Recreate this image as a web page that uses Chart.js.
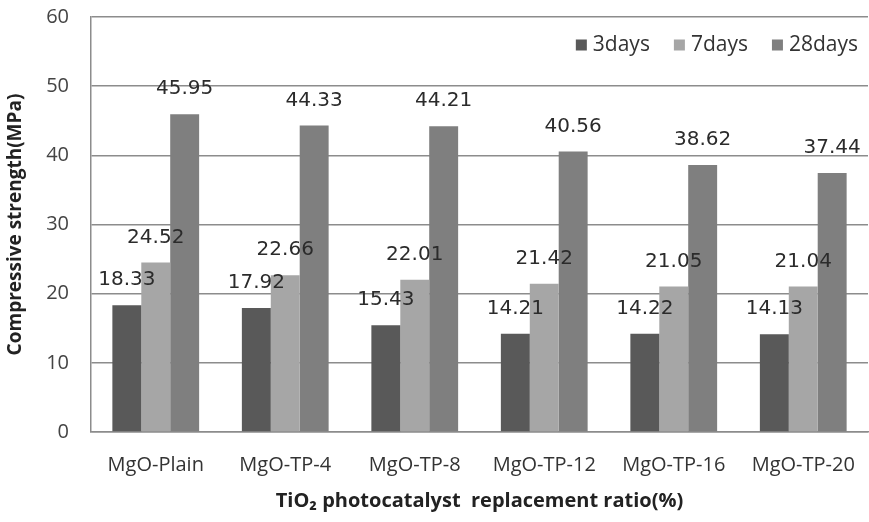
<!DOCTYPE html>
<html>
<head>
<meta charset="utf-8">
<script src="https://cdn.jsdelivr.net/npm/chart.js@4.4.1/dist/chart.umd.min.js"></script>
<style>
  html, body { margin: 0; padding: 0; background: #fff; }
  #wrap { width: 869px; height: 522px; position: relative; }
</style>
</head>
<body>
<div id="wrap"><canvas id="strengthChart"></canvas></div>
<script>
const categories = ["MgO-Plain", "MgO-TP-4", "MgO-TP-8", "MgO-TP-12", "MgO-TP-16", "MgO-TP-20"];
const seriesNames = ["3days", "7days", "28days"];
const days3 = [18.33, 17.92, 15.43, 14.21, 14.22, 14.13];
const days7 = [24.52, 22.66, 22.01, 21.42, 21.05, 21.04];
const days28 = [45.95, 44.33, 44.21, 40.56, 38.62, 37.44];
const yTicks = [0, 10, 20, 30, 40, 50, 60];

const seriesColors = ["#595959", "#a6a6a6", "#7f7f7f"];

// 막대 위 값 표시
const valueLabels = {
    id: 'valueLabels',
    afterDatasetsDraw(chart) {
        const ctx = chart.ctx;
        ctx.save();
        ctx.font = '20px "DejaVu Sans"';
        ctx.fillStyle = '#2b2b2b';
        ctx.textAlign = 'center';
        ctx.textBaseline = 'middle';
        chart.data.datasets.forEach((ds, i) => {
            chart.getDatasetMeta(i).data.forEach((bar, j) => {
                ctx.fillText(ds.data[j].toFixed(2), bar.x, bar.y - 25);
            });
        });
        ctx.restore();
    }
};

// 오른쪽 위 범례
const cornerLegend = {
    id: 'cornerLegend',
    afterDraw(chart) {
        const ctx = chart.ctx;
        ctx.save();
        ctx.font = '21px "Open Sans"';
        ctx.textBaseline = 'middle';
        const box = 11, gap = 6, spacing = 24;
        const items = chart.data.datasets.map(ds => ({ label: ds.label, color: ds.backgroundColor, w: ctx.measureText(ds.label).width }));
        let total = items.reduce((s, it) => s + box + gap + it.w, 0) + spacing * (items.length - 1);
        let x = chart.chartArea.right - 10 - total;
        const y = 45;
        items.forEach(it => {
            ctx.fillStyle = it.color;
            ctx.fillRect(x, y - box / 2, box, box);
            x += box + gap;
            ctx.fillStyle = '#333';
            ctx.fillText(it.label, x, y);
            x += it.w + spacing;
        });
        ctx.restore();
    }
};

new Chart(document.getElementById('strengthChart').getContext('2d'), {
    type: 'bar',
    data: {
        labels: categories,
        datasets: [
            { label: seriesNames[0], data: days3, backgroundColor: seriesColors[0] },
            { label: seriesNames[1], data: days7, backgroundColor: seriesColors[1] },
            { label: seriesNames[2], data: days28, backgroundColor: seriesColors[2] }
        ]
    },
    options: {
        responsive: true,
        maintainAspectRatio: false,
        animation: false,
        layout: { padding: { top: 17, right: 1, left: 0, bottom: 0 } },
        datasets: { bar: { categoryPercentage: 0.67, barPercentage: 1.0 } },
        plugins: { legend: { display: false }, tooltip: { enabled: false } },
        scales: {
            x: {
                grid: { display: false, drawTicks: false },
                border: { color: '#8c8c8c', width: 1.5 },
                ticks: { color: '#333', font: { family: 'Open Sans', size: 20 }, padding: 21, maxRotation: 0, autoSkip: false },
                title: {
                    display: true,
                    text: 'TiO\u2082 photocatalyst  replacement ratio(%)',
                    color: '#222',
                    font: { family: 'Open Sans', size: 20, weight: 'bold' },
                    padding: { top: 0, bottom: 9 }
                },
                afterFit(scale) {
                    scale.height = 90;
                    scale.paddingLeft = 0;
                    scale.paddingRight = 0;
                }
            },
            y: {
                min: 0,
                max: 60,
                afterBuildTicks(scale) { scale.ticks = yTicks.map(v => ({ value: v })); },
                grid: { color: '#8c8c8c', lineWidth: 1.5, drawTicks: false },
                border: { color: '#8c8c8c', width: 1.5 },
                ticks: { color: '#444', font: { family: 'Open Sans', size: 20 }, padding: 22 },
                title: {
                    display: true,
                    text: 'Compressive strength(MPa)',
                    color: '#222',
                    font: { family: 'Open Sans', size: 19, weight: 'bold' },
                    padding: { top: 4, bottom: 0 }
                },
                afterFit(scale) {
                    scale.width = 91;
                    scale.paddingTop = 0;
                    scale.paddingBottom = 0;
                }
            }
        }
    },
    plugins: [valueLabels, cornerLegend]
});
</script>
</body>
</html>
